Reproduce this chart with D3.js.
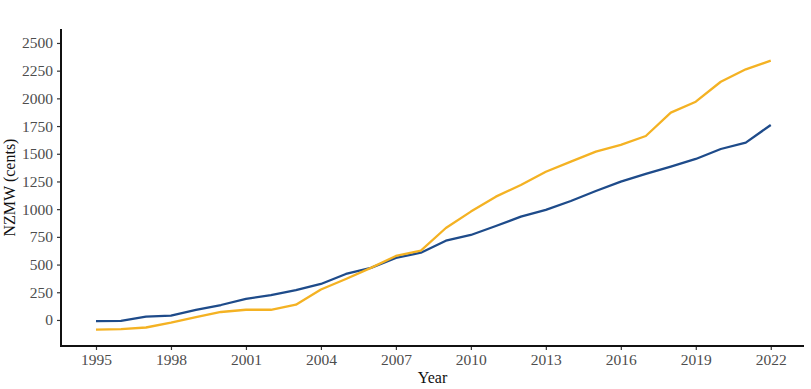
<!DOCTYPE html>
<html>
<head>
<meta charset="utf-8">
<script src="https://d3js.org/d3.v7.min.js"></script>
<style>
  body { margin: 0; background: #fff; }
  svg { display: block; }
  text { font-family: "Liberation Serif", "DejaVu Serif", serif; }
</style>
</head>
<body>
<svg width="811" height="389"></svg>
<script>
var years = d3.range(1995, 2023);
var blueVals = [-10, -8, 30, 40, 90, 135, 190, 225, 270, 325, 415, 470, 560, 607,
  715, 767, 848, 932, 993, 1074, 1164, 1248, 1318, 1384, 1453, 1543, 1600, 1760];
var yellowVals = [-88, -82, -68, -25, 25, 72, 92, 92, 138, 275, 370, 470, 578, 625,
  830, 978, 1113, 1218, 1338, 1429, 1519, 1580, 1660, 1871, 1970, 2150, 2262, 2340];
var xTicks = [1995, 1998, 2001, 2004, 2007, 2010, 2013, 2016, 2019, 2022];
var yTicks = [0, 250, 500, 750, 1000, 1250, 1500, 1750, 2000, 2250, 2500];

var svg = d3.select("svg");
var plotL = 61, plotR = 804, plotT = 29, plotB = 346;

var x = d3.scaleLinear().domain([1993.6, 2023.33]).range([plotL, plotR]);
var y = d3.scaleLinear().domain([-235, 2626]).range([plotB, plotT]);

var line = d3.line().x(function(d){ return x(d[0]); }).y(function(d){ return y(d[1]); });

var series = [
  {vals: blueVals, color: "#1e4b8a"},
  {vals: yellowVals, color: "#f4b223"}
];
series.forEach(function(s){
  svg.append("path")
    .datum(years.map(function(yr, i){ return [yr, s.vals[i]]; }))
    .attr("fill", "none")
    .attr("stroke", s.color)
    .attr("stroke-width", 2.3)
    .attr("stroke-linejoin", "round")
    .attr("d", line);
});

// axes
var yAxis = svg.append("g").attr("transform", "translate(" + plotL + ",0)")
  .call(d3.axisLeft(y).tickValues(yTicks).tickSize(4).tickPadding(4).tickFormat(d3.format("d")));
var xAxis = svg.append("g").attr("transform", "translate(0," + plotB + ")")
  .call(d3.axisBottom(x).tickValues(xTicks).tickSize(4).tickPadding(4).tickFormat(d3.format("d")));

[xAxis, yAxis].forEach(function(a){
  a.select(".domain").remove();
  a.selectAll(".tick line").attr("stroke", "#333").attr("stroke-width", 1.2);
  a.selectAll(".tick text").attr("fill", "#4d4d4d").style("font-size", "15.5px")
    .style("font-family", "'Liberation Serif', serif");
});

svg.append("line").attr("x1", plotL).attr("x2", plotL).attr("y1", plotT).attr("y2", plotB + 1)
  .attr("stroke", "#111").attr("stroke-width", 2);
svg.append("line").attr("x1", plotL - 1).attr("x2", plotR).attr("y1", plotB).attr("y2", plotB)
  .attr("stroke", "#111").attr("stroke-width", 2);

svg.append("text").attr("x", (plotL + plotR) / 2).attr("y", 383)
  .attr("text-anchor", "middle").style("font-size", "16px").attr("fill", "#111").text("Year");
svg.append("text").attr("transform", "translate(15," + ((plotT + plotB) / 2) + ") rotate(-90)")
  .attr("text-anchor", "middle").style("font-size", "16px").attr("fill", "#111").text("NZMW (cents)");
</script>
</body>
</html>
